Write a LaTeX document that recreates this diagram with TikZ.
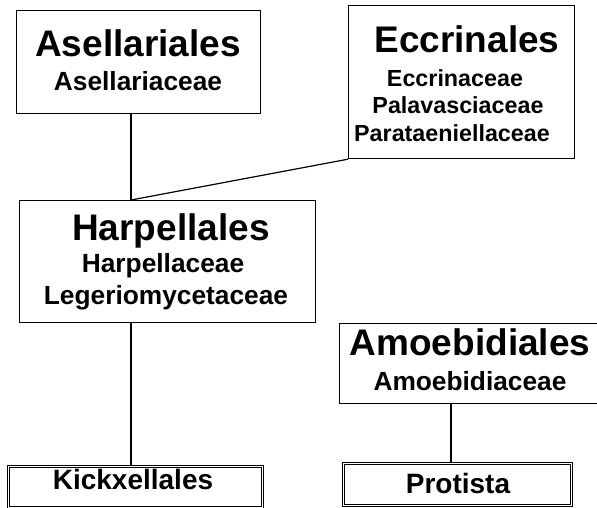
\documentclass[tikz,border=0pt]{standalone}
\usepackage{fontspec}
\setmainfont{Liberation Sans}
\usepackage{tikz}
\newcommand{\ordsize}{\fontsize{37}{40}\selectfont\bfseries}
\newcommand{\famsize}{\fontsize{26.3}{30}\selectfont\bfseries}
\newcommand{\eccsize}{\fontsize{23.3}{27}\selectfont\bfseries}
\newcommand{\lastsize}{\fontsize{28}{32}\selectfont\bfseries}
\begin{document}
\begin{tikzpicture}[x=1pt,y=-1pt,
  box/.style={draw,line width=1.2pt,rectangle,inner sep=0pt,anchor=north west},
  endbox/.style={box,double,line width=0.9pt,double distance=1pt},
  lbl/.style={anchor=base,inner sep=0pt},
  link/.style={line width=1.2pt}]
\useasboundingbox (0,0) rectangle (597,508);
\clip (0,0) rectangle (597,508);
% boxes
\node[box,minimum width=244pt,minimum height=103pt] (asel) at (16,10) {};
\node[box,minimum width=226pt,minimum height=153pt] (eccr) at (348,5) {};
\node[box,minimum width=296pt,minimum height=122pt] (harp) at (19,200) {};
\node[box,minimum width=270pt,minimum height=80pt] (amoeb) at (339,323) {};
\node[endbox,minimum width=254pt,minimum height=41pt] (kick) at (8,466) {};
\node[endbox,minimum width=228pt,minimum height=42pt] (prot) at (343,463) {};
% texts
\node[lbl,font=\ordsize] (asel-t) at (138,57) {Asellariales};
\node[lbl,font=\famsize] (asel-f) at (138,91) {Asellariaceae};
\node[lbl,font=\ordsize] (eccr-t) at (467,53) {Eccrinales};
\node[lbl,font=\eccsize] (eccr-f1) at (455,87) {Eccrinaceae};
\node[lbl,font=\eccsize] (eccr-f2) at (458,114) {Palavasciaceae};
\node[lbl,font=\eccsize] (eccr-f3) at (452,142) {Parataeniellaceae};
\node[lbl,font=\ordsize] (harp-t) at (171,240) {Harpellales};
\node[lbl,font=\famsize] (harp-f1) at (163,272) {Harpellaceae};
\node[lbl,font=\famsize] (harp-f2) at (166,304) {Legeriomycetaceae};
\node[lbl,font=\ordsize] (amoeb-t) at (470,355) {Amoebidiales};
\node[lbl,font=\famsize] (amoeb-f) at (470,390) {Amoebidiaceae};
\node[lbl,font=\lastsize] (kick-t) at (133,489) {Kickxellales};
\node[lbl,font=\lastsize] (prot-t) at (458,493) {Protista};
% links
\coordinate (stem) at (131,0);
\coordinate (stem2) at (451,0);
\draw[link] (asel.south -| stem) -- (harp.north -| stem);
\draw[link] (eccr.south west) -- (harp.north -| stem);
\draw[link] (harp.south -| stem) -- (kick.north -| stem);
\draw[link] (amoeb.south -| stem2) -- (prot.north -| stem2);
\end{tikzpicture}
\end{document}
